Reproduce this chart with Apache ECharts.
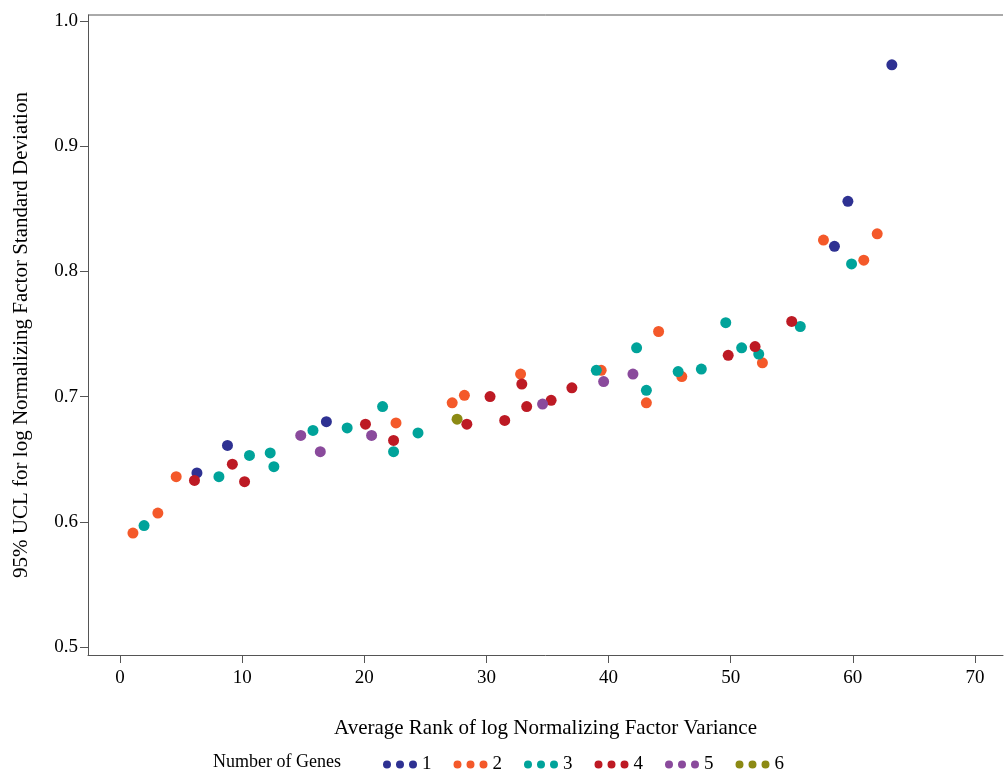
<!DOCTYPE html>
<html>
<head>
<meta charset="utf-8">
<script src="https://cdn.jsdelivr.net/npm/echarts@6/dist/echarts.min.js"></script>
<style>html,body{margin:0;padding:0;background:#fff}#main{width:1004px;height:772px}</style>
</head>
<body>
<div id="main"></div>
<script>
// 各组数据 [平均秩, 95% UCL]
const genes1 = [[6.3,0.639],[8.8,0.661],[16.9,0.680],[58.5,0.820],[59.6,0.856],[63.2,0.965]];
const genes2 = [[1.06,0.591],[3.1,0.607],[4.6,0.636],[22.6,0.679],[27.2,0.695],[28.2,0.701],[32.8,0.718],
  [39.4,0.721],[43.1,0.695],[44.1,0.752],[46.0,0.716],[52.6,0.727],[57.6,0.825],[60.9,0.809],[62.0,0.830]];
const genes3 = [[1.97,0.597],[8.1,0.636],[10.6,0.653],[12.3,0.655],[12.6,0.644],[15.8,0.673],[18.6,0.675],
  [21.5,0.692],[22.4,0.656],[24.4,0.671],[39.0,0.721],[42.3,0.739],[43.1,0.705],[45.7,0.720],[47.6,0.722],
  [49.6,0.759],[50.9,0.739],[52.3,0.734],[55.7,0.756],[59.9,0.806]];
const genes4 = [[6.1,0.633],[9.2,0.646],[10.2,0.632],[20.1,0.678],[22.4,0.665],[28.4,0.678],[30.3,0.700],
  [31.5,0.681],[32.9,0.710],[33.3,0.692],[35.3,0.697],[37.0,0.707],[49.8,0.733],[52.0,0.740],[55.0,0.760]];
const genes5 = [[14.8,0.669],[16.4,0.656],[20.6,0.669],[34.6,0.694],[39.6,0.712],[42.0,0.718]];
const genes6 = [[27.6,0.682]];
const groupNames = ["1", "2", "3", "4", "5", "6"];
const groupColors = ["#2e3192", "#f4592a", "#00a39a", "#bd1a24", "#8a4a9c", "#8c8a14"];
const xTicks = [0, 10, 20, 30, 40, 50, 60, 70];
const yTicks = [0.5, 0.6, 0.7, 0.8, 0.9, 1.0];

const font = "Liberation Serif";
const dots = "path://M0,4a4,4 0 1,0 8,0a4,4 0 1,0 -8,0M13,4a4,4 0 1,0 8,0a4,4 0 1,0 -8,0M26,4a4,4 0 1,0 8,0a4,4 0 1,0 -8,0";
const myChart = echarts.init(document.querySelector("#main"));
const option = {
  textStyle: { fontFamily: font },
  grid: { left: 88, right: 1, top: 15, bottom: 117, outerBoundsMode: "none" },
  legend: {
    left: 378, top: 750, itemWidth: 34, itemHeight: 8, itemGap: 22,
    icon: dots,
    textStyle: { fontFamily: font, fontSize: 19, color: "#000" },
    data: groupNames
  },
  graphic: [{ type: "text", left: 213, top: 753, style: { text: "Number of Genes", font: "18px " + font, fill: "#000" } },
    { type: "line", shape: { x1: 88, y1: 15, x2: 1003, y2: 15 }, style: { stroke: "#555", lineWidth: 1 } }],
  xAxis: {
    type: "value", min: -2.62, max: 72.3,
    name: "Average Rank of log Normalizing Factor Variance", nameLocation: "middle", nameGap: 63,
    nameTextStyle: { fontSize: 21, color: "#000", fontFamily: font },
    splitLine: { show: false },
    axisLine: { onZero: false, lineStyle: { color: "#555" } },
    axisTick: { customValues: xTicks, length: 8, lineStyle: { color: "#555" } },
    axisLabel: { customValues: xTicks, fontSize: 19, color: "#000", margin: 14, fontFamily: font }
  },
  yAxis: {
    type: "value", min: 0.4936, max: 1.0048,
    name: "95% UCL for log Normalizing Factor Standard Deviation", nameLocation: "middle", nameGap: 56,
    nameTextStyle: { fontSize: 21, color: "#000", fontFamily: font },
    splitLine: { show: false },
    axisLine: { show: true, onZero: false, lineStyle: { color: "#555" } },
    axisTick: { show: true, customValues: yTicks, length: 8, lineStyle: { color: "#555" } },
    axisLabel: { customValues: yTicks, fontSize: 19, color: "#000", margin: 10, fontFamily: font,
      formatter: (v) => v.toFixed(1) }
  },
  series: [genes1, genes2, genes3, genes4, genes5, genes6].map((d, i) => ({
    name: groupNames[i], type: "scatter", data: d, symbolSize: 11,
    itemStyle: { color: groupColors[i], opacity: 1 }
  }))
};
myChart.setOption(option);
</script>
</body>
</html>
